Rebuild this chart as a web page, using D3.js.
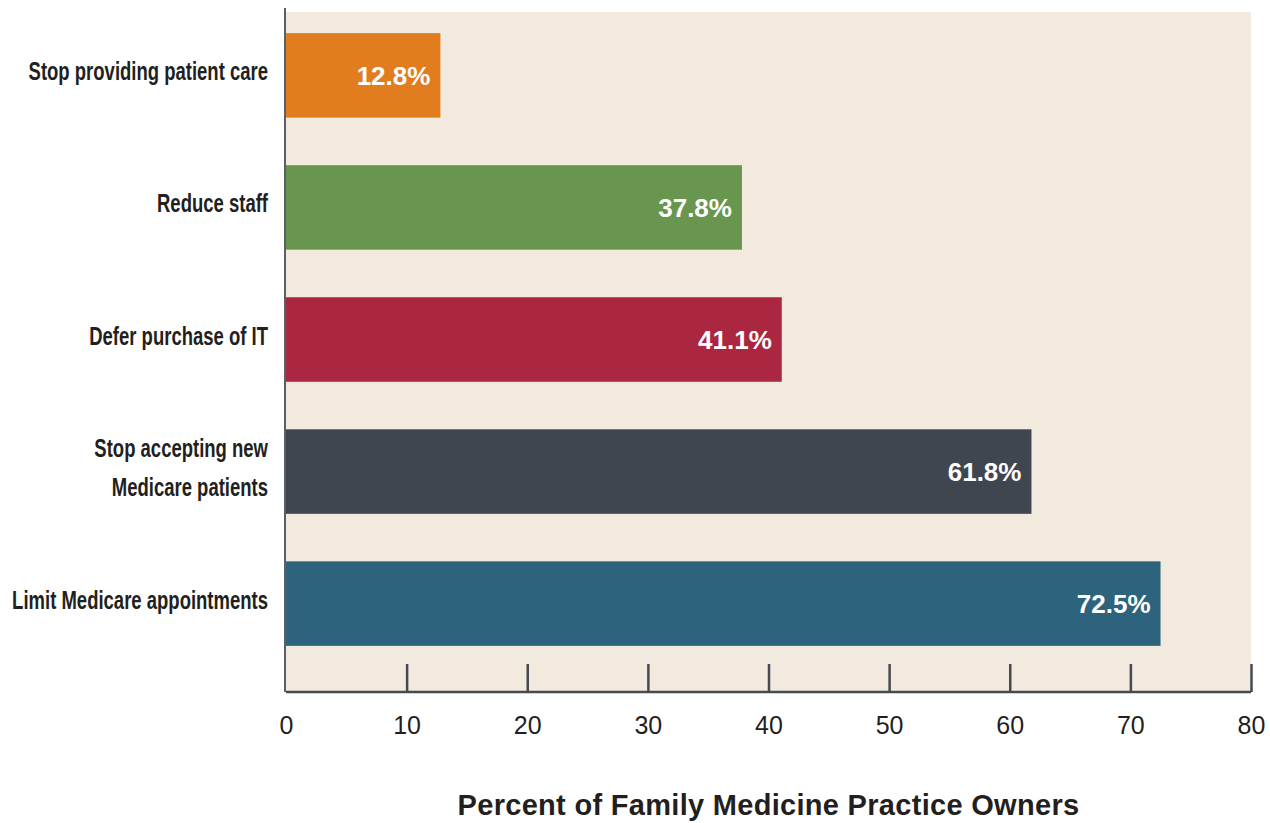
<!DOCTYPE html>
<html>
<head>
<meta charset="utf-8">
<script src="https://cdn.jsdelivr.net/npm/d3@7"></script>
<style>
  html, body { margin: 0; padding: 0; background: #ffffff; }
  svg { display: block; }
</style>
</head>
<body>
<svg id="chart" width="1270" height="823"></svg>
<script>
const categories = [
  ["Stop providing patient care"],
  ["Reduce staff"],
  ["Defer purchase of IT"],
  ["Stop accepting new", "Medicare patients"],
  ["Limit Medicare appointments"]
];
const values = [12.8, 37.8, 41.1, 61.8, 72.5];
const valueLabels = ["12.8%", "37.8%", "41.1%", "61.8%", "72.5%"];
const colors = ["#E27D1F", "#69964F", "#AB2641", "#3F4650", "#2E637E"];
const tickValues = [0, 10, 20, 30, 40, 50, 60, 70, 80];
const axisTitle = "Percent of Family Medicine Practice Owners";

const svg = d3.select("#chart");
const plotLeft = 286, plotRight = 1251, plotTop = 12, plotBottom = 692;

const x = d3.scaleLinear().domain([0, 80]).range([plotLeft, plotRight]);
const y = d3.scaleBand().domain(d3.range(categories.length))
  .range([12, 667]).paddingInner(0.36).paddingOuter(0.16);

// background
svg.append("rect")
  .attr("x", plotLeft).attr("y", plotTop)
  .attr("width", plotRight - plotLeft).attr("height", plotBottom - plotTop)
  .attr("fill", "#F2E9DF");

// bars
svg.selectAll("rect.bar").data(values).enter().append("rect")
  .attr("class", "bar")
  .attr("x", x(0))
  .attr("y", (d, i) => y(i))
  .attr("width", d => x(d) - x(0))
  .attr("height", y.bandwidth())
  .attr("fill", (d, i) => colors[i]);

// value labels
svg.selectAll("text.val").data(values).enter().append("text")
  .attr("class", "val")
  .attr("x", d => x(d) - 10)
  .attr("y", (d, i) => y(i) + y.bandwidth() / 2)
  .attr("dy", "0.36em")
  .attr("text-anchor", "end")
  .attr("fill", "#ffffff")
  .style("font-family", "'Liberation Sans', Arial, Helvetica, sans-serif")
  .style("font-weight", "bold")
  .style("font-size", "26px")
  .text((d, i) => valueLabels[i]);

// category labels (condensed via horizontal scale)
const catG = svg.append("g");
categories.forEach((lines, i) => {
  const cy = y(i) + y.bandwidth() / 2;
  const lh = 39;
  const g = catG.append("g")
    .attr("transform", `translate(268,${cy - 4}) scale(0.74,1)`);
  const t = g.append("text")
    .attr("text-anchor", "end")
    .attr("fill", "#231F20")
    .style("font-family", "'Liberation Sans', Arial, Helvetica, sans-serif")
    .style("font-weight", "bold")
    .style("font-size", "25px");
  lines.forEach((ln, j) => {
    t.append("tspan")
      .attr("x", 0)
      .attr("y", (j - (lines.length - 1) / 2) * lh)
      .attr("dy", "0.36em")
      .text(ln);
  });
});

// x axis
const axis = d3.axisBottom(x).tickValues(tickValues).tickSize(-28).tickPadding(24).tickFormat(d3.format("d"));
const ag = svg.append("g").attr("transform", `translate(0,${plotBottom})`).call(axis);
ag.select(".domain").remove();
ag.selectAll(".tick line").attr("stroke", "#454A52").attr("stroke-width", 2.5);
ag.selectAll(".tick").filter(d => d === 0).select("line").remove();
ag.selectAll(".tick text")
  .attr("fill", "#231F20")
  .style("font-family", "'Liberation Sans', Arial, Helvetica, sans-serif")
  .style("font-size", "25px");

// axis lines
svg.append("line")
  .attr("x1", x(0)).attr("x2", plotRight)
  .attr("y1", plotBottom).attr("y2", plotBottom)
  .attr("stroke", "#454A52").attr("stroke-width", 2.5);
svg.append("line")
  .attr("x1", x(0) - 1).attr("x2", x(0) - 1)
  .attr("y1", 8).attr("y2", plotBottom)
  .attr("stroke", "#5A5F66").attr("stroke-width", 2);

// axis title
svg.append("text")
  .attr("x", (plotLeft + plotRight) / 2)
  .attr("y", 805)
  .attr("dy", "0.36em")
  .attr("text-anchor", "middle")
  .attr("fill", "#231F20")
  .style("font-family", "'Liberation Sans', Arial, Helvetica, sans-serif")
  .style("font-weight", "bold")
  .style("font-size", "29px")
  .style("letter-spacing", "0.3px")
  .text(axisTitle);
</script>
</body>
</html>
